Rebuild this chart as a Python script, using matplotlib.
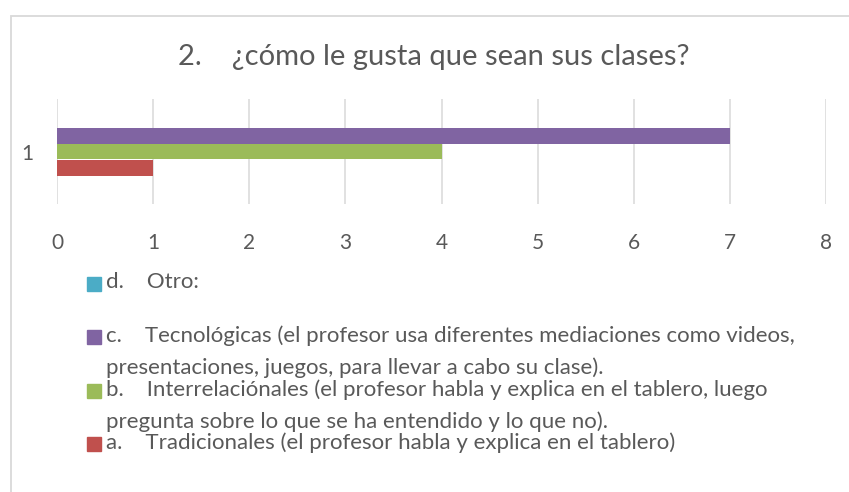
import matplotlib.pyplot as plt
from matplotlib.patches import Rectangle

plt.rcParams['font.family'] = ['Lato', 'DejaVu Sans']

title = "2.    ¿cómo le gusta que sean sus clases?"
category = "1"
series_labels = [
    "a.    Tradicionales (el profesor habla y explica en el tablero)",
    "b.    Interrelaciónales (el profesor habla y explica en el tablero, luego\npregunta sobre lo que se ha entendido y lo que no).",
    "c.    Tecnológicas (el profesor usa diferentes mediaciones como videos,\npresentaciones, juegos, para llevar a cabo su clase).",
    "d.    Otro:",
]
values = [1, 4, 7, 0]
colors = ['#C0504D', '#9BBB59', '#8064A2', '#4BACC6']
xticks = [0, 1, 2, 3, 4, 5, 6, 7, 8]

txt = '#595959'
W, H = 849, 492
fig = plt.figure(figsize=(W / 100, H / 100), dpi=100)

# chart border
fig.patches.append(Rectangle((11 / W, -0.2), 2, 1.2 - 16 / H, transform=fig.transFigure,
                             fill=False, edgecolor='#D9D9D9', linewidth=1.3))

ax = fig.add_axes([57 / W, 1 - 204 / H, (826 - 57) / W, (204 - 99) / H])
h = 16 / 105
for i, (v, c) in enumerate(zip(values, colors)):
    ax.barh(1 + (i - 1) * h, v, height=h, color=c, zorder=3)

ax.set_xlim(0, 8)
ax.set_ylim(0.5, 1.5)
ax.set_xticks(xticks)
ax.set_yticks([1])
ax.set_yticklabels([category])
ax.grid(axis='x', color='#D9D9D9', linewidth=1.1, zorder=0)
for s in ax.spines.values():
    s.set_visible(False)
ax.tick_params(length=0, labelsize=15, colors=txt)
ax.tick_params(axis='x', pad=21)
ax.tick_params(axis='y', pad=17)

fig.text(434 / W, 1 - 57 / H, title, ha='center', va='center', fontsize=21, color=txt)

# legend, drawn in reverse order (d on top)
ys = [444, 391, 337, 284]
for lab, c, y in zip(series_labels, colors, ys):
    fig.patches.append(Rectangle((87 / W, 1 - (y + 7) / H), 14 / W, 14 / H,
                                 transform=fig.transFigure, color=c))
    fig.text(106 / W, 1 - (y - 12) / H, lab, ha='left', va='top', fontsize=16,
             color=txt, linespacing=1.7)

fig.savefig('out.png', dpi=100)
